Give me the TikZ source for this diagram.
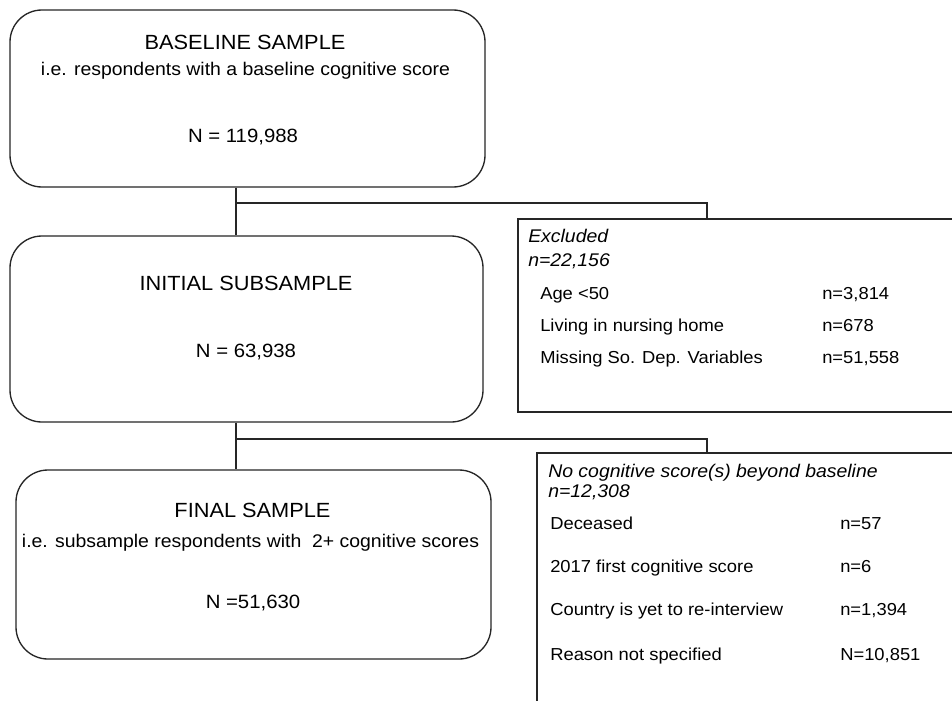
\documentclass[tikz,border=0pt]{standalone}
\usepackage{fontspec}
\setmainfont{Liberation Sans}[FakeStretch=1.06]
\begin{document}
\begin{tikzpicture}[x=0.75pt,y=-0.75pt,
  rbox/.style={draw=black!85, line width=1pt, rounded corners=24pt, inner sep=0pt},
  sbox/.style={draw=black!85, line width=1pt, inner sep=0pt},
  conn/.style={draw=black!85, line width=1pt},
  ttl/.style={font=\fontsize{15.4}{18}\selectfont, anchor=mid, inner sep=0pt},
  num/.style={font=\fontsize{14.4}{17}\selectfont, anchor=mid, inner sep=0pt},
  sub/.style={font=\fontsize{13.75}{16}\selectfont, anchor=mid, inner sep=0pt},
  hdr/.style={font=\fontsize{13.75}{16}\selectfont\itshape, anchor=mid west, inner sep=0pt},
  itm/.style={font=\fontsize{13}{15}\selectfont, anchor=mid west, inner sep=0pt}]
\useasboundingbox (0,0) rectangle (952,700);
\clip (0,0) rectangle (952,700);
\fill[white] (0,0) rectangle (952,700);

% main boxes
\node[rbox, minimum width=356.25pt, minimum height=132.75pt] (b1) at (247.5,98.5) {};
\node[rbox, minimum width=354.75pt, minimum height=139.5pt] (b2) at (246.5,329) {};
\node[rbox, minimum width=356.25pt, minimum height=141.75pt] (b3) at (253.5,564.5) {};
% side boxes
\node[sbox, minimum width=339pt, minimum height=144.75pt] (ex) at (744,315.5) {};
\node[sbox, minimum width=324.75pt, minimum height=200.25pt] (nc) at (753.5,586.5) {};

% connectors
\coordinate (j1) at (236,203);
\coordinate (t1) at (707,203);
\coordinate (j2) at (236,439);
\coordinate (t2) at (707,439);
\draw[conn] (j1 |- b1.south) -- (j1 |- b2.north);
\draw[conn] (j1) -- (t1) -- (t1 |- ex.north);
\draw[conn] (j2 |- b2.south) -- (j2 |- b3.north);
\draw[conn] (j2) -- (t2) -- (t2 |- nc.north);

% box 1 text
\node[ttl] (b1t) at (245,46) {BASELINE SAMPLE};
\node[sub] (b1s) at (245.5,72) {i.e. respondents with a baseline cognitive score};
\node[num] (b1n) at (243,139) {N = 119,988};

% box 2 text
\node[ttl] (b2t) at (246,287) {INITIAL SUBSAMPLE};
\node[num] (b2n) at (246,354) {N = 63,938};

% box 3 text
\node[ttl] (b3t) at (252.5,514) {FINAL SAMPLE};
\node[sub] (b3s) at (250.5,544) {i.e. subsample respondents with\ \ 2+ cognitive scores};
\node[num] (b3n) at (253,605) {N =51,630};

% excluded box text
\node[hdr] (exh) at (528,239) {Excluded};
\node[hdr] (exn) at (528,263) {n=22,156};
\node[itm] (ex1) at (540,296) {Age <50};
\node[itm] (ex1n) at (822,296) {n=3,814};
\node[itm] (ex2) at (540,328) {Living in nursing home};
\node[itm] (ex2n) at (822,328) {n=678};
\node[itm] (ex3) at (540,360) {Missing So. Dep. Variables};
\node[itm] (ex3n) at (822,360) {n=51,558};

% no cognitive score box text
\node[hdr] (nch) at (548,474) {No cognitive score(s) beyond baseline};
\node[hdr] (ncn) at (548,494) {n=12,308};
\node[itm] (nc1) at (550,526) {Deceased};
\node[itm] (nc1n) at (840,526) {n=57};
\node[itm] (nc2) at (550,569) {2017 first cognitive score};
\node[itm] (nc2n) at (840,569) {n=6};
\node[itm] (nc3) at (550,612) {Country is yet to re-interview};
\node[itm] (nc3n) at (840,612) {n=1,394};
\node[itm] (nc4) at (550,657) {Reason not specified};
\node[itm] (nc4n) at (840,657) {N=10,851};
\end{tikzpicture}
\end{document}
